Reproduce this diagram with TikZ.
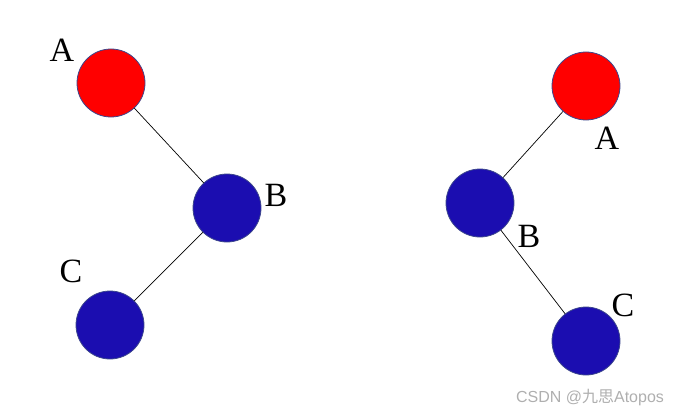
\documentclass[tikz,border=0pt]{standalone}
\usepackage{fontspec}
\setmainfont{Liberation Serif}
\newfontfamily\wmfont{Noto Sans CJK SC}
\newfontfamily\wmlatin{Liberation Sans}
\definecolor{nodered}{RGB}{255,0,0}
\definecolor{nodeblue}{RGB}{27,13,176}
\definecolor{rimblue}{RGB}{60,70,140}
\definecolor{wmgrey}{RGB}{175,175,175}
\begin{document}
\begin{tikzpicture}[x=1pt,y=-1pt,
  vert/.style={circle,draw=rimblue,line width=0.8pt,minimum size=68pt,inner sep=0pt},
  redv/.style={vert,fill=nodered},
  bluev/.style={vert,fill=nodeblue},
  lbl/.style={font=\fontsize{34}{34}\selectfont,inner sep=0pt},
  edge/.style={draw=black,line width=0.7pt}]
\useasboundingbox (0,0) rectangle (684,417);
% left tree
\node[redv] (lA) at (111,83) {};
\node[bluev] (lB) at (227,208) {};
\node[bluev] (lC) at (110,325) {};
\draw[edge] (lA) -- (lB);
\draw[edge] (lB) -- (lC);
\node[lbl] (tlA) at (62,50) {A};
\node[lbl] (tlB) at (276,195) {B};
\node[lbl] (tlC) at (71,271) {C};
% right tree
\node[redv] (rA) at (586,86) {};
\node[bluev] (rB) at (480,203) {};
\node[bluev] (rC) at (586,341) {};
\draw[edge] (rA) -- (rB);
\draw[edge] (rB) -- (rC);
\node[lbl] (trA) at (607,138) {A};
\node[lbl] (trB) at (529,236) {B};
\node[lbl] (trC) at (623,305) {C};
% watermark
\node[font=\fontsize{16}{16}\selectfont,text=wmgrey,inner sep=0pt] (wm) at (590,398) {\wmlatin CSDN @\wmfont 九思\wmlatin Atopos};
\end{tikzpicture}
\end{document}
